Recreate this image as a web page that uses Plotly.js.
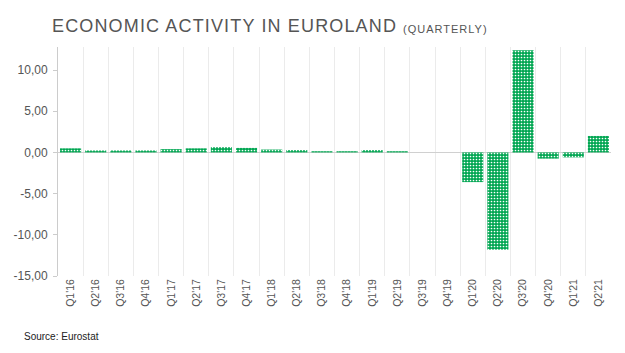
<!DOCTYPE html>
<html>
<head>
<meta charset="utf-8">
<script src="https://cdn.plot.ly/plotly-3.0.1.min.js"></script>
<style>html,body{margin:0;padding:0;background:#fff;}#chart{width:625px;height:353px;}</style>
</head>
<body>
<div id="chart"></div>
<script>
const quarters = ["Q1'16","Q2'16","Q3'16","Q4'16","Q1'17","Q2'17","Q3'17","Q4'17","Q1'18","Q2'18","Q3'18","Q4'18","Q1'19","Q2'19","Q3'19","Q4'19","Q1'20","Q2'20","Q3'20","Q4'20","Q1'21","Q2'21"];
const growth = [0.5,0.25,0.25,0.25,0.4,0.5,0.65,0.55,0.35,0.3,0.15,0.15,0.3,0.15,0.0,0.0,-3.6,-11.8,12.4,-0.75,-0.6,2.0];
const yTickVals = [10,5,0,-5,-10,-15];
const yTickText = ["10,00","5,00","0,00","-5,00","-10,00","-15,00"];

const green = '#00a651';
const trace = {
  type: 'bar',
  x: quarters,
  y: growth,
  marker: {
    color: green,
    line: {width: 0},
    pattern: {shape: '.', fgcolor: '#ffffff', bgcolor: green, size: 3, solidity: 0.25, fillmode: 'replace'}
  },
  hoverinfo: 'x+y'
};

const layout = {
  width: 625, height: 353,
  margin: {l: 58, r: 14, t: 47, b: 77},
  paper_bgcolor: '#fff', plot_bgcolor: '#fff',
  bargap: 0.16,
  showlegend: false,
  font: {family: 'Liberation Sans, Arial, sans-serif', color: '#555'},
  xaxis: {
    type: 'category',
    tickson: 'boundaries',
    showgrid: true, gridcolor: '#ebebeb', gridwidth: 1,
    ticks: '', tickangle: -90,
    tickfont: {size: 10.5, color: '#555'},
    showline: false, zeroline: false,
    fixedrange: true
  },
  yaxis: {
    range: [-15, 12.8],
    tickvals: yTickVals, ticktext: yTickText,
    tickfont: {size: 12, color: '#555'},
    ticks: 'outside', ticklen: 4, tickcolor: '#ccc',
    ticklabelstandoff: 3,
    showgrid: false,
    showline: true, linecolor: '#ccc', linewidth: 1,
    zeroline: true, zerolinecolor: '#d0d0d0', zerolinewidth: 1.5,
    fixedrange: true
  },
  annotations: [
    {text: '<span style="letter-spacing:1.15px">ECONOMIC ACTIVITY IN EUROLAND</span>', xref: 'paper', yref: 'paper', x: -0.015, y: 1, xanchor: 'left', yanchor: 'bottom',
     yshift: 9, showarrow: false, font: {size: 18, color: '#555', family: 'Liberation Sans, Arial, sans-serif'}},
    {text: '<span style="letter-spacing:1px">(QUARTERLY)</span>', xref: 'paper', yref: 'paper', x: 0.621, y: 1, xanchor: 'left', yanchor: 'bottom',
     yshift: 10, showarrow: false, font: {size: 11, color: '#555', family: 'Liberation Sans, Arial, sans-serif'}},
    {text: 'Source: Eurostat', xref: 'paper', yref: 'paper', x: -0.065, y: 0, xanchor: 'left', yanchor: 'top',
     yshift: -53, showarrow: false, font: {size: 10, color: '#222', family: 'Liberation Sans Narrow, Arial Narrow, sans-serif'}}
  ]
};

Plotly.newPlot('chart', [trace], layout, {displayModeBar: false, staticPlot: true});
</script>
</body>
</html>
